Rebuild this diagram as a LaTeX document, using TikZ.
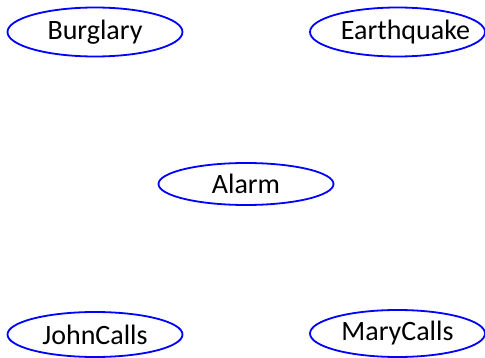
\documentclass[tikz,border=0pt]{standalone}
\usepackage{fontspec}
\setmainfont{Carlito}
\usetikzlibrary{shapes.geometric}
\begin{document}
\begin{tikzpicture}[x=1pt,y=-1pt,
  var/.style={ellipse,draw=blue,line width=1.8pt,minimum width=175pt,inner xsep=-30pt,inner ysep=0pt,
    font=\fontsize{28}{32}\selectfont,text=black}]
\useasboundingbox (0,0) rectangle (485,358);
\node[var,minimum height=49pt] (B) at (95,32) {Burglary};
\node[var,minimum height=49pt] (E) at (397.5,32) {\hspace{16pt}Earthquake};
\node[var,minimum height=42pt] (A) at (246,184) {Alarm};
\node[var,minimum height=45pt] (J) at (95,334.5) {JohnCalls};
\node[var,minimum height=47pt] (M) at (397.5,333.5) {MaryCalls};
\end{tikzpicture}
\end{document}
